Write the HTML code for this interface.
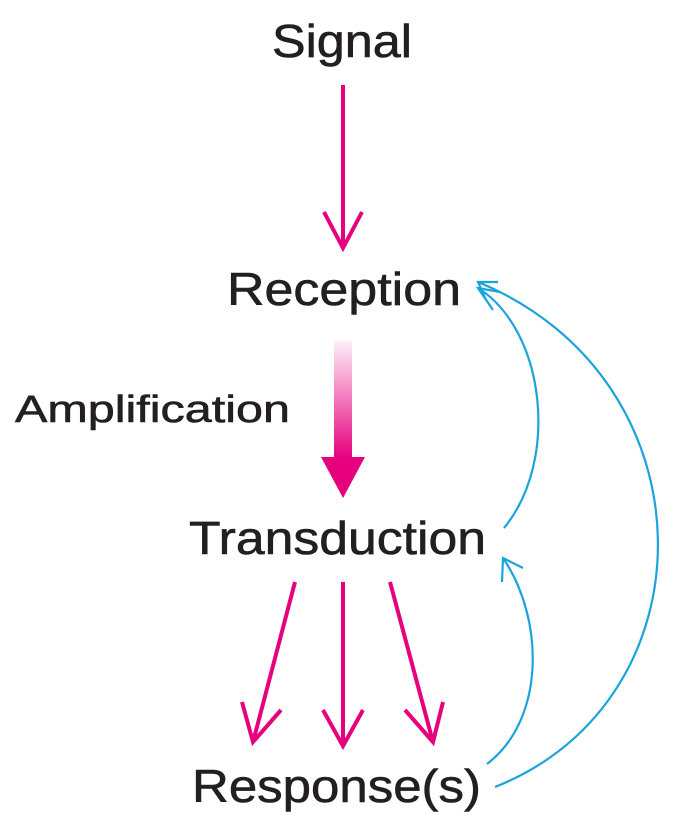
<!DOCTYPE html>
<html><head><style>
html,body{margin:0;padding:0;background:#fff;}
svg{display:block;}
text{font-family:"Liberation Sans",sans-serif;fill:#231f20;stroke:#231f20;stroke-width:0.6;}
</style></head><body>
<svg width="675" height="827" viewBox="0 0 675 827">
<defs>
<linearGradient id="g" x1="0" y1="0" x2="0" y2="1">
<stop offset="0" stop-color="#e6007e" stop-opacity="0.05"/>
<stop offset="1" stop-color="#e6007e"/>
</linearGradient>
</defs>
<text x="272" y="57" font-size="46" textLength="140" lengthAdjust="spacingAndGlyphs">Signal</text>
<text x="227" y="305" font-size="46" textLength="234" lengthAdjust="spacingAndGlyphs">Reception</text>
<text x="15" y="422" font-size="38" textLength="275" lengthAdjust="spacingAndGlyphs">Amplification</text>
<text x="189" y="554" font-size="46" textLength="297" lengthAdjust="spacingAndGlyphs">Transduction</text>
<text x="192" y="802" font-size="46" textLength="289" lengthAdjust="spacingAndGlyphs">Response(s)</text>
<g stroke="#e6007e" stroke-width="4" fill="none" stroke-linecap="butt">
<line x1="343" y1="85" x2="343" y2="248"/>
<polyline points="324,212 343,248 362,212"/>
<line x1="295" y1="582" x2="253" y2="742"/>
<polyline points="242,702 253,742 281,710"/>
<line x1="343" y1="582" x2="343" y2="746"/>
<polyline points="323,710 343,746 363,710"/>
<line x1="390" y1="582" x2="433" y2="742"/>
<polyline points="405,710 433,742 443,702"/>
</g>
<rect x="334" y="340" width="18" height="118" fill="url(#g)"/>
<polygon points="321,457 365,457 343,498" fill="#e6007e"/>
<g stroke="#1ba3dc" stroke-width="2.2" fill="none">
<path d="M487,764 C545,720 545,620 503,558"/>
<polyline points="502,582 503,558 523,568"/>
<path d="M504,528 C560,460 545,330 478,288"/>
<polyline points="493,310 478,288 500,292"/>
<path d="M495,787 C715,700 715,380 478,282"/>
<polyline points="486,300 478,282 498,282"/>
</g>
</svg>
</body></html>
